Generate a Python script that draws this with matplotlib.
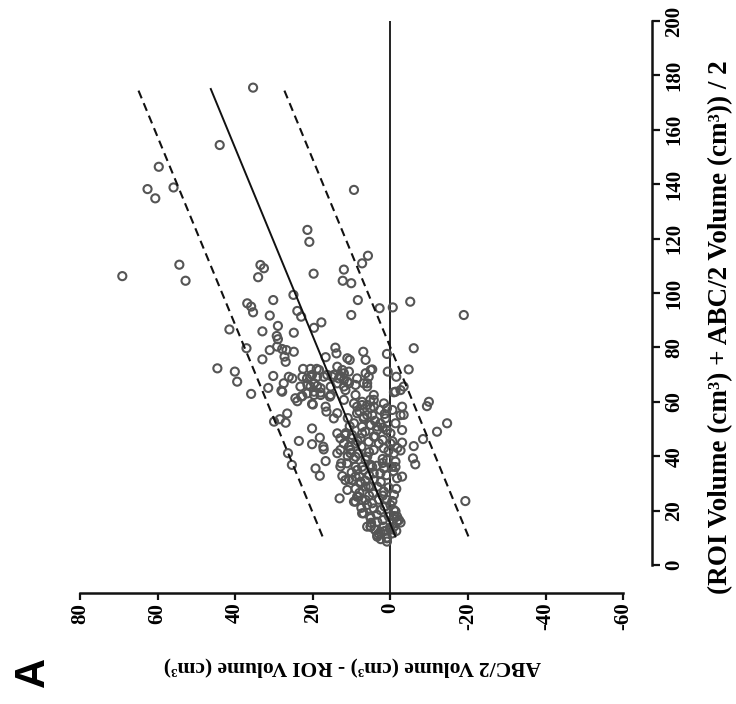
import matplotlib
matplotlib.use("Agg")
import matplotlib.pyplot as plt
import numpy as np

# ---------------- data (difference = ABC/2 - ROI, mean = (ROI + ABC/2)/2) ----------------
diff_outer = [35.4, 44.0, 59.7, 62.6, 60.6, 55.9, 9.4, 21.4, 20.9, 5.8, 7.3, 54.4, 69.1, 33.5, 32.6,
              19.8, 12.0, 34.1, 52.8, 12.3, 10.1, 8.4, 10.1, 36.9, 35.9, 35.4, 30.2, 25.0, 24.0, 23.0,
              31.1, 41.5, 33.0, 29.0, 24.9, 19.7, 17.8, 29.3, 29.0, -18.9, 2.8, -0.6, -5.1]
mean_outer = [175.5, 154.4, 146.4, 138.2, 134.8, 138.8, 137.9, 123.2, 118.8, 113.7, 110.9, 110.4, 106.2, 110.3, 109.1,
              107.1, 108.6, 105.8, 104.5, 104.5, 103.6, 97.4, 91.9, 96.2, 95.0, 92.9, 97.4, 99.3, 93.4, 91.3,
              91.7, 86.6, 85.9, 87.9, 85.4, 87.2, 89.2, 84.2, 83.0, 91.9, 94.4, 94.7, 96.8]

diff_mid = [31.1, 29.2, 27.9, 26.8, 27.3, 24.9, 37.1, 33.0, 27.0, 16.7, 14.2, 13.9, 11.1, 10.5, 7.0, 6.4,
            44.6, 40.1, 39.5, 35.9, 31.5, 30.2, 28.1, 26.2, 25.3, 24.0, 22.5, 20.6, 19.0, 20.6, 19.7, 18.0,
            23.2, 21.4, 18.0, 20.0, 23.0, 17.2, 15.6, 16.7, 16.5, 14.6, 13.3, 12.0, 11.1, 13.7, 12.0, 10.7,
            8.6, 9.0, 9.0, 6.0, 5.6, 5.1,
            18.4, 22.7, 21.5, 20.2, 18.9, 16.3, 15.0, 12.4, 12.9, 12.0, 10.7, 6.4, 4.7, 6.9, 6.0, 13.7,
            15.4, 18.9, 20.6, 27.5, 27.9, 19.7, 15.4, 11.6, 4.3, -6.0, -4.7, 0.9, 0.7, -1.5, -0.9, -2.6, -3.4,
            24.5, 22.7, 21.4, 19.7, 18.0, 20.2, 13.7, 14.6, 12.0, 8.6, 7.3, 6.0, 4.3, 1.7, 0.9, -1.3, -3.4]
mean_mid = [79.0, 80.3, 79.4, 79.0, 76.6, 78.4, 79.7, 75.6, 74.7, 76.4, 79.9, 77.8, 76.0, 75.4, 78.4, 75.4,
            72.3, 71.1, 67.4, 62.9, 65.1, 69.5, 64.1, 69.2, 68.6, 60.2, 72.1, 72.1, 72.1, 69.2, 66.8, 65.0,
            65.6, 66.2, 62.5, 59.0, 61.9, 69.2, 61.9, 58.2, 56.4, 69.9, 68.6, 65.6, 67.4, 72.9, 70.5, 71.1,
            68.6, 66.2, 62.5, 66.8, 69.2, 71.7,
            71.7, 69.2, 68.6, 69.9, 69.2, 69.9, 69.2, 71.7, 69.5, 68.0, 66.8, 70.5, 71.9, 66.8, 65.6, 66.8,
            65.6, 65.8, 65.6, 66.8, 63.7, 62.5, 62.5, 64.3, 62.5, 79.7, 71.9, 77.6, 71.1, 69.2, 63.5, 64.3, 65.6,
            61.3, 62.1, 63.1, 63.7, 63.4, 59.2, 55.8, 53.9, 60.7, 58.2, 58.8, 58.8, 60.7, 59.4, 57.6, 63.7, 55.2]

diff_low = [30.0, 28.5, 27.0, 26.6, 20.2, 23.6, 20.2, 18.2, 17.3, 17.2, 16.7, 19.3, 18.2, 26.4, 25.4,
            13.1, 13.7, 12.9, 12.7, 11.6, 11.1, 9.4, 5.1, 3.4, 13.7, 12.9, 12.4, 10.7]
mean_low = [52.7, 53.6, 52.3, 55.7, 50.2, 45.6, 44.4, 46.8, 43.5, 42.5, 38.2, 35.5, 32.8, 41.1, 36.8,
            24.5, 48.4, 42.3, 37.4, 31.2, 27.6, 23.3, 14.1, 11.0, 41.1, 36.2, 32.7, 31.5]

diff_core = [12.9, 12.0, 10.7, 11.6, 9.9, 9.0, 10.3, 9.0, 7.3, 5.1, 3.4, 2.6, 6.9, 6.0, 5.1, 2.6, 1.3, 0.9,
             0.0, -1.3, 4.3, 3.0, 1.7, 0.0, -0.9, -1.3, -0.4, 0.9, 1.7, 2.6, 4.3, 5.1, 6.4, 7.3, 8.6, 9.0,
             7.7, 6.4, 5.1, 3.4, 1.7, 0.9, 0.0, -0.9, -1.7, -1.7, 0.4, 2.6, 4.3, 6.0, 7.3, 8.2, 9.0, 6.9,
             5.1, 3.4, 1.7, 2.6, 5.1, 3.4, 0.9, -0.4, -0.9, -2.2, 0.9,
             9.4, 7.3, 5.2, 4.3, 8.6, 6.9, 4.7, 9.4, 7.3, 5.2, 3.4, 9.9, 7.7, 5.6, 3.9, 10.3, 8.2, 6.0,
             4.3, 11.2, 9.0, 6.9, 4.7, 9.9, 7.7, 5.6, 4.3, 8.6, 6.4, 4.7, 7.3, 5.2, 6.0, 3.9]
mean_core = [46.6, 44.7, 43.5, 47.8, 46.6, 44.7, 41.1, 39.8, 48.4, 51.5, 50.9, 52.1, 53.9, 55.1, 57.6, 57.0, 53.9, 49.6,
             48.4, 52.1, 47.2, 44.7, 42.9, 44.7, 41.1, 38.0, 36.1, 38.6, 35.5, 33.7, 33.7, 36.8, 38.6, 36.1, 34.9, 32.5,
             30.6, 28.8, 28.8, 28.8, 27.0, 23.9, 22.1, 20.2, 17.8, 16.0, 17.8, 20.2, 20.8, 22.1, 23.9, 25.1, 23.3, 19.0,
             17.2, 15.9, 14.1, 12.2, 14.1, 10.4, 9.8, 11.6, 14.1, 16.5, 8.6,
             59.4, 60.0, 60.7, 58.2, 55.8, 54.5, 55.1, 52.1, 50.8, 51.5, 49.6, 47.8, 46.6, 45.3, 47.2, 42.3, 41.0, 39.8,
             42.3, 37.4, 36.1, 34.9, 36.1, 31.2, 30.0, 28.8, 31.2, 25.1, 23.9, 22.7, 19.0, 17.8, 14.1, 12.9]

diff_dense = [11.0, 8.0, 4.0, 1.5, -0.5, 10.5, 2.0,
              11.5, 8.5, 6.5, 2.0, -0.5, 1.0,
              11.0, 7.5, 5.5, 2.0, 0.5, -1.8, 9.5,
              10.0, 8.0, 5.5, 3.5, 1.0, -0.8, 2.0,
              9.0, 6.5, 4.5, 2.5, 0.5, -1.5, 8.0,
              7.5, 5.5, 3.0, 1.5, -0.5, 2.0,
              5.0, 3.5, 2.0, 0.5, -1.0, 4.0,
              2.5, 1.5, 0.0, -1.5, 3.0]
mean_dense = [54.0, 56.5, 53.0, 55.5, 57.0, 51.0, 50.5,
              48.5, 45.5, 49.0, 46.0, 45.5, 49.5,
              40.0, 43.5, 41.5, 39.0, 42.0, 43.0, 39.0,
              34.0, 32.5, 33.0, 36.5, 33.0, 34.5, 37.5,
              28.0, 31.0, 26.5, 30.5, 28.5, 28.0, 26.5,
              21.0, 25.5, 24.0, 21.5, 23.5, 25.5,
              15.5, 18.5, 16.5, 19.0, 18.0, 13.0,
              9.5, 12.5, 13.0, 12.5, 11.5]

diff_right = [-9.9, -9.4, -14.6, -12.0, -8.4, -6.0, -5.8, -6.4, -19.3, -3.0, -3.0, -3.0, -2.6, -3.0, -2.6,
              -1.3, -1.7, -0.9, -2.6, -1.3, 0.2, 0.9]
mean_right = [60.0, 58.4, 52.1, 49.0, 46.3, 43.7, 39.2, 37.0, 23.5, 58.2, 45.0, 32.5, 55.1, 49.6, 42.1,
              36.0, 31.9, 25.8, 15.6, 19.7, 13.6, 10.1]

# regression of difference on mean, and 95% limits of agreement
reg_intercept = -4.33
reg_slope = 0.2893
loa_halfwidth = 18.8
line_mean_range = [10.5, 175.0]

xticks_diff = [80, 60, 40, 20, 0, -20, -40, -60]
yticks_mean = [0, 20, 40, 60, 80, 100, 120, 140, 160, 180, 200]
xlabel_text = "ABC/2 Volume (cm³) - ROI Volume (cm³)"
ylabel_text = "(ROI Volume (cm³) + ABC/2 Volume (cm³)) / 2"
panel_label = "A"

# ---------------- plot ----------------
W, H = 736, 704
fig = plt.figure(figsize=(W / 100, H / 100), dpi=100)
ax = fig.add_axes([80 / W, 1 - 593 / H, 572 / W, 572 / H])
ax.set_xlim(80, -67.4)
ax.set_ylim(-10.3, 200)

d_all = np.concatenate([diff_outer, diff_mid, diff_low, diff_core, diff_dense, diff_right])
m_all = np.concatenate([mean_outer, mean_mid, mean_low, mean_core, mean_dense, mean_right])

# zero line
ax.axvline(0, color="#222222", lw=1.4, zorder=1)

ax.scatter(d_all, m_all, s=34, facecolors="none", edgecolors="#555555", linewidths=1.5, zorder=3)

mm = np.array(line_mean_range)
center = reg_intercept + reg_slope * mm
ax.plot(center, mm, color="#111111", lw=1.4, zorder=4)
ax.plot(center + loa_halfwidth, mm, color="#111111", lw=1.5, ls=(0, (4, 2.5)), zorder=4)
ax.plot(center - loa_halfwidth, mm, color="#111111", lw=1.5, ls=(0, (4, 2.5)), zorder=4)

for s in ["left", "top"]:
    ax.spines[s].set_visible(False)
ax.spines["bottom"].set_bounds(-60, 80)
ax.spines["right"].set_bounds(0, 200)
for s in ["bottom", "right"]:
    ax.spines[s].set_linewidth(1.8)
    ax.spines[s].set_color("#111111")

ax.yaxis.tick_right()
ax.set_xticks(xticks_diff)
ax.set_yticks(yticks_mean)
tick_font = dict(family="Liberation Serif", weight="bold", size=15)
ax.set_xticklabels([str(v) for v in xticks_diff], rotation=90, **tick_font)
ax.set_yticklabels([str(v) for v in yticks_mean], rotation=90, va="center", **tick_font)
ax.tick_params(axis="x", length=5, width=1.6, pad=2, color="#111111")
ax.tick_params(axis="y", length=6, width=1.6, pad=3, color="#111111")

fig.text(352 / W, 1 - 667 / H, xlabel_text, rotation=180, ha="center", va="center",
         family="Liberation Serif", weight="bold", size=15.5)
fig.text(721 / W, 1 - 327 / H, ylabel_text, rotation=90, ha="center", va="center",
         family="Liberation Serif", weight="bold", size=19.5)
fig.text(33 / W, 1 - 672 / H, panel_label, rotation=90, ha="center", va="center",
         family="Liberation Sans", weight="bold", size=30)

fig.savefig("out.png", dpi=100)
